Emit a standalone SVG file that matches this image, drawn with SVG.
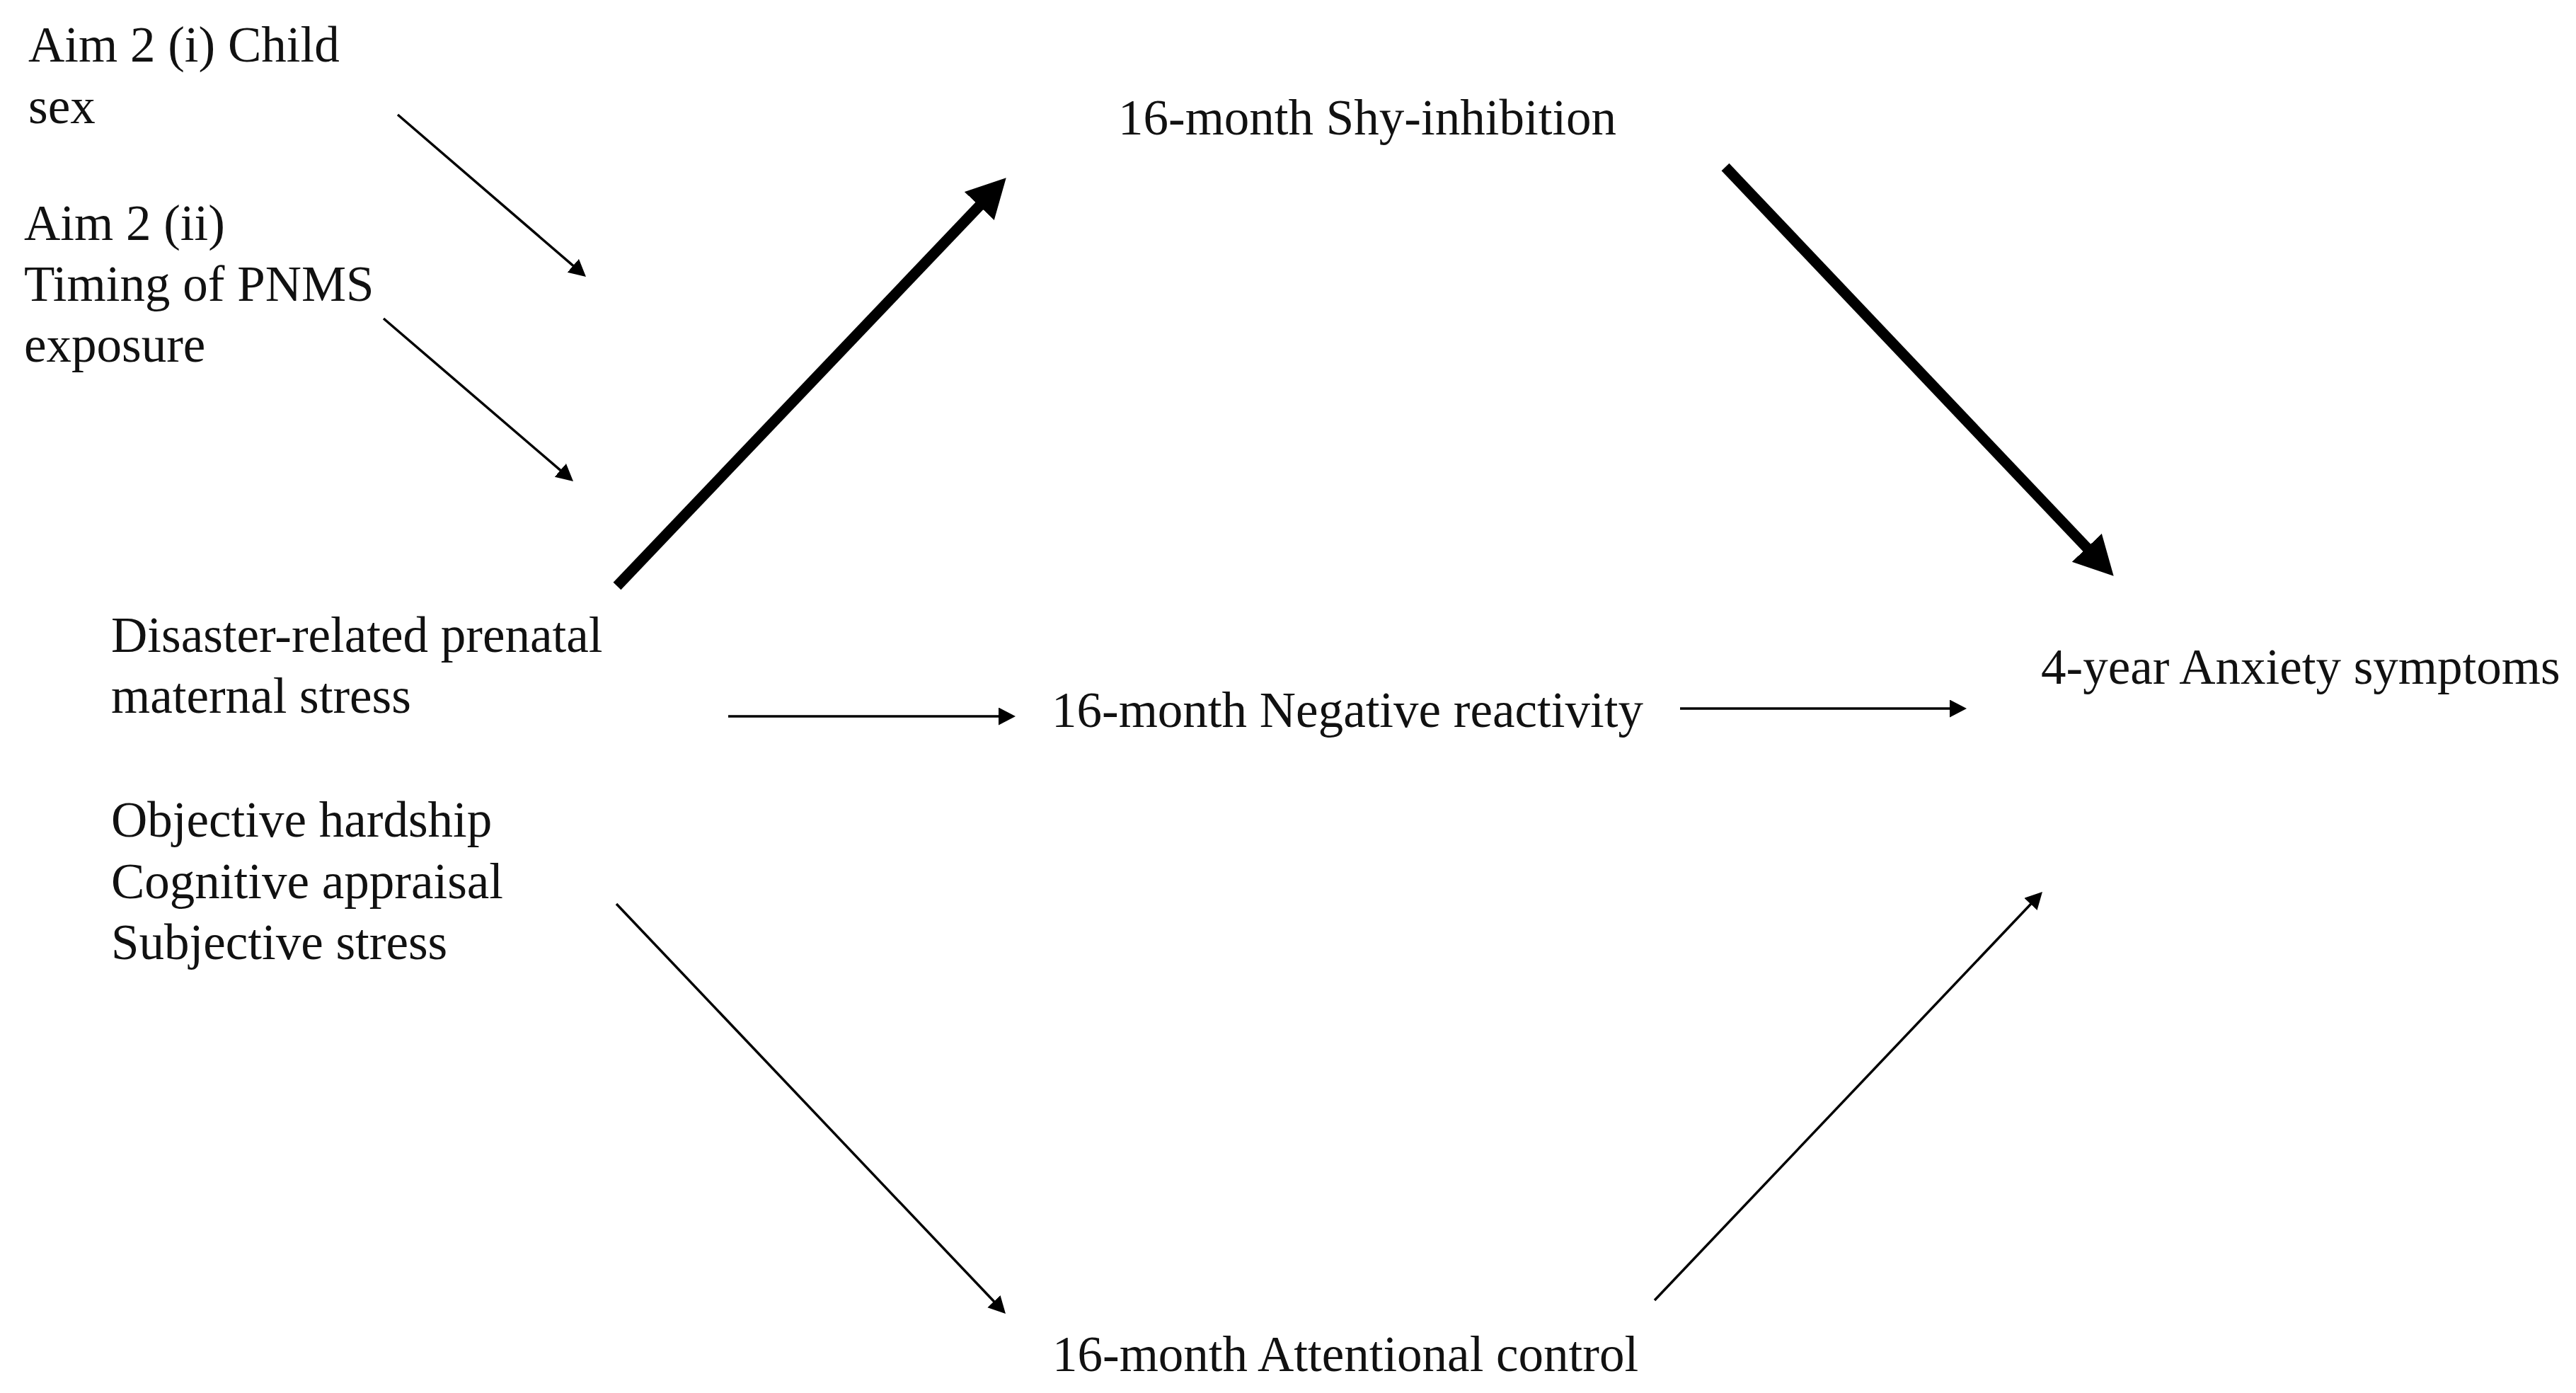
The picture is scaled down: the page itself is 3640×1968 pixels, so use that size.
<svg xmlns="http://www.w3.org/2000/svg" width="3640" height="1968" viewBox="0 0 3640 1968">
  <style>
    .lbl { font-family: "Liberation Serif", "Times New Roman", serif; font-size: 71px; fill: #111; }
    .thin { stroke: #000; stroke-width: 3.5; fill: none; marker-end: url(#headThin); }
    .thick { stroke: #000; stroke-width: 15; fill: none; marker-end: url(#headThick); }
  </style>
  <defs>
    <marker id="headThin" markerUnits="userSpaceOnUse" markerWidth="26" markerHeight="26" refX="12" refY="12.5" orient="auto">
      <path d="M0,0 L24,12.5 L0,25 z" fill="#000"/>
    </marker>
    <marker id="headThick" markerUnits="userSpaceOnUse" markerWidth="60" markerHeight="60" refX="27" refY="29" orient="auto">
      <path d="M0,0 L55,29 L0,58 z" fill="#000"/>
    </marker>
  </defs>
  <rect width="3640" height="1968" fill="#fff"/>

  <g id="connectors">
    <line class="thin" x1="562" y1="162" x2="818.9" y2="383.2"/>
    <line class="thin" x1="542" y1="450" x2="800.9" y2="672.2"/>
    <line class="thick" x1="872" y1="828" x2="1402.4" y2="271.5"/>
    <line class="thick" x1="2438" y1="236" x2="2967.4" y2="793.4"/>
    <line class="thin" x1="1029" y1="1012" x2="1423" y2="1012"/>
    <line class="thin" x1="2374" y1="1001" x2="2767" y2="1001"/>
    <line class="thin" x1="871" y1="1277" x2="1412.7" y2="1847.3"/>
    <line class="thin" x1="2338" y1="1837" x2="2877.7" y2="1268.7"/>
  </g>

  <g id="n-aim2i">
    <text class="lbl" x="40" y="87">Aim 2 (i) Child</text>
    <text class="lbl" x="40" y="174">sex</text>
  </g>
  <g id="n-aim2ii">
    <text class="lbl" x="34" y="339">Aim 2 (ii)</text>
    <text class="lbl" x="34" y="425">Timing of PNMS</text>
    <text class="lbl" x="34" y="511">exposure</text>
  </g>
  <g id="n-pnms">
    <text class="lbl" x="157" y="921">Disaster-related prenatal</text>
    <text class="lbl" x="157" y="1007">maternal stress</text>
    <text class="lbl" x="157" y="1182">Objective hardship</text>
    <text class="lbl" x="157" y="1269">Cognitive appraisal</text>
    <text class="lbl" x="157" y="1355">Subjective stress</text>
  </g>
  <g id="n-shy">
    <text class="lbl" x="1580" y="190">16-month Shy-inhibition</text>
  </g>
  <g id="n-neg">
    <text class="lbl" x="1486" y="1027">16-month Negative reactivity</text>
  </g>
  <g id="n-anx">
    <text class="lbl" x="2884" y="966">4-year Anxiety symptoms</text>
  </g>
  <g id="n-att">
    <text class="lbl" x="1487" y="1937">16-month Attentional control</text>
  </g>
</svg>
